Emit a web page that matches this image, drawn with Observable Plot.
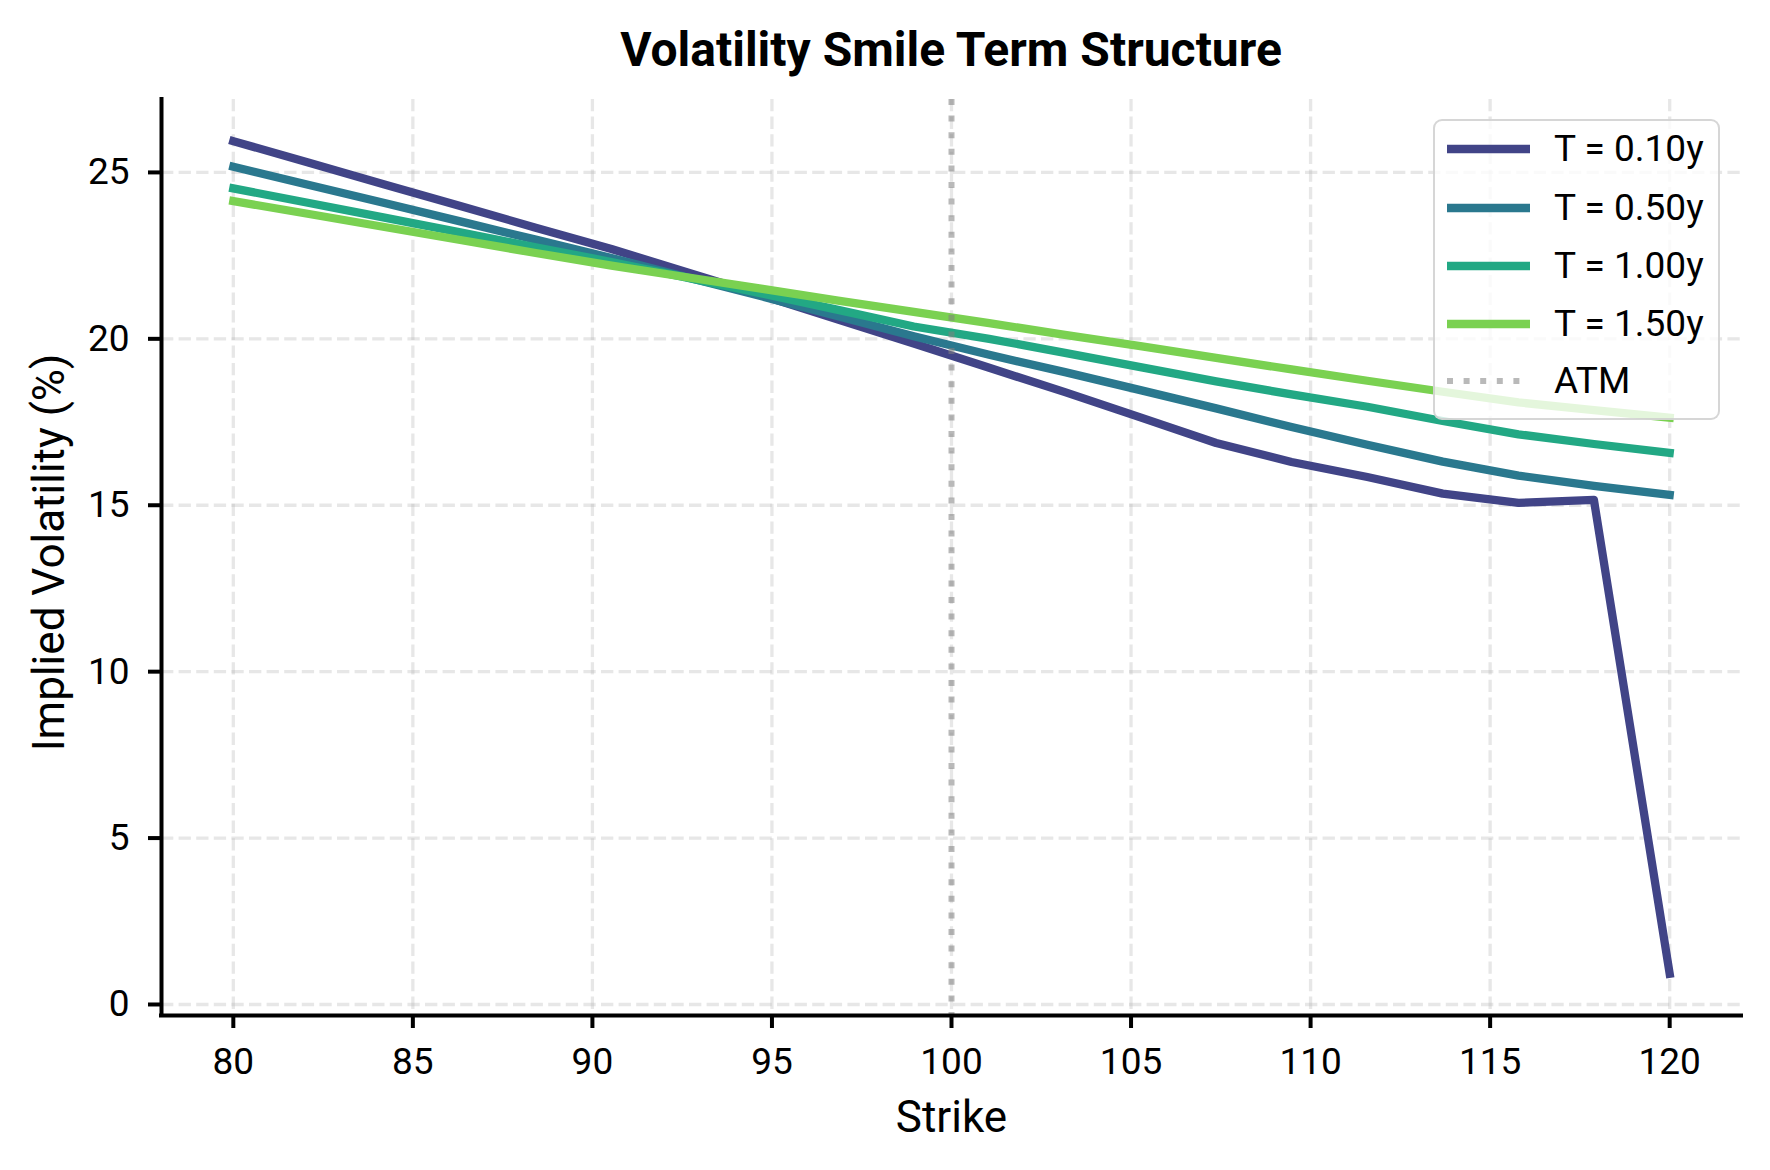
<!DOCTYPE html>
<html>
<head>
<meta charset="utf-8">
<script src="https://cdn.jsdelivr.net/npm/d3@7"></script>
<script src="https://cdn.jsdelivr.net/npm/@observablehq/plot@0.6"></script>
<style>
  html, body { margin: 0; padding: 0; background: #fff; }
  #fig { position: relative; width: 1770px; height: 1170px; font-family: Roboto, sans-serif; color: #000; }
  #title { height: 80px; box-sizing: border-box; padding-top: 26px; margin-left: 161px; width: 1580px;
           text-align: center; font-size: 48px; font-weight: 700; line-height: 1; }
  #legend { position: absolute; left: 1433px; top: 119px; width: 287px; height: 301px; box-sizing: border-box;
            border: 2.5px solid rgba(204,204,204,0.8); border-radius: 9px; background: rgba(255,255,255,0.8); }
  .row { position: absolute; left: 0; height: 50px; display: flex; align-items: center; }
  .row svg { position: absolute; left: 9px; top: 0; }
  .row span { position: absolute; left: 119px; font-size: 37px; line-height: 50px; top: 0; white-space: nowrap; }
</style>
</head>
<body>
<div id="fig">
  <div id="title"></div>
  <div id="chart"></div>
  <div id="legend"></div>
</div>
<script>
// ---- data ----
const strikes = [80, 82.11, 84.21, 86.32, 88.42, 90.53, 92.63, 94.74, 96.84, 98.95,
                 101.05, 103.16, 105.26, 107.37, 109.47, 111.58, 113.68, 115.79, 117.89, 120];
const volT010 = [25.94, 25.29, 24.64, 23.99, 23.34, 22.70, 22.00, 21.30, 20.58, 19.86,
                 19.13, 18.40, 17.64, 16.87, 16.30, 15.85, 15.35, 15.07, 15.16, 0.92];
const volT050 = [25.17, 24.62, 24.08, 23.53, 22.98, 22.43, 21.85, 21.27, 20.68, 20.08,
                 19.52, 19.00, 18.46, 17.91, 17.35, 16.82, 16.31, 15.89, 15.58, 15.31];
const volT100 = [24.52, 24.08, 23.64, 23.20, 22.75, 22.31, 21.84, 21.36, 20.87, 20.37,
                 20.00, 19.58, 19.15, 18.72, 18.33, 17.96, 17.53, 17.13, 16.84, 16.57];
const volT150 = [24.14, 23.75, 23.36, 22.97, 22.58, 22.20, 21.85, 21.50, 21.15, 20.81,
                 20.47, 20.12, 19.78, 19.43, 19.08, 18.74, 18.41, 18.09, 17.86, 17.63];
const seriesLabels = ["T = 0.10y", "T = 0.50y", "T = 1.00y", "T = 1.50y"];
const seriesColors = ["#414487", "#2a788e", "#22a884", "#7ad151"];
const atmStrike = 100;
const atmLabel = "ATM";
const xTicks = [80, 85, 90, 95, 100, 105, 110, 115, 120];
const yTicks = [0, 5, 10, 15, 20, 25];
const titleText = "Volatility Smile Term Structure";
const xLabel = "Strike";
const yLabel = "Implied Volatility (%)";

// ---- build ----
const allVols = [volT010, volT050, volT100, volT150];
const rows = allVols.flatMap((v, k) => strikes.map((s, i) => ({strike: s, vol: v[i], series: seriesLabels[k]})));
const pad = (ext) => { const r = ext[1] - ext[0]; return [ext[0] - 0.05 * r, ext[1] + 0.05 * r]; };
const xDom = pad(d3.extent(strikes));
const yDom = pad(d3.extent(rows, d => d.vol));

document.getElementById("title").textContent = titleText;

const gridStyle = {stroke: "#b0b0b0", strokeOpacity: 0.3, strokeWidth: 3.3, strokeDasharray: "12.3,5.3"};

const chart = Plot.plot({
  width: 1770, height: 1090,
  marginTop: 19, marginBottom: 155, marginLeft: 161, marginRight: 29,
  style: {fontFamily: "Roboto, sans-serif", fontSize: "37px", color: "#000", background: "#fff", overflow: "visible"},
  x: {domain: xDom},
  y: {domain: yDom},
  color: {domain: seriesLabels, range: seriesColors},
  marks: [
    Plot.gridX(xTicks, gridStyle),
    Plot.gridY(yTicks, gridStyle),
    Plot.line(rows, {x: "strike", y: "vol", z: "series", stroke: "series", strokeWidth: 8.3,
                     strokeLinecap: "square", strokeLinejoin: "round"}),
    Plot.ruleX([atmStrike], {stroke: "gray", strokeOpacity: 0.55, strokeWidth: 6, strokeDasharray: "6,10.6"}),
    Plot.ruleY([yDom[0]], {stroke: "#000", strokeWidth: 4, strokeLinecap: "square"}),
    Plot.ruleX([xDom[0]], {stroke: "#000", strokeWidth: 4, strokeLinecap: "square"}),
    Plot.axisX(xTicks, {tickSize: 13, tickPadding: 19, strokeWidth: 4, fontSize: 37, label: null}),
    Plot.axisY(yTicks, {tickSize: 13, tickPadding: 19, strokeWidth: 4, fontSize: 37, label: null}),
    Plot.text([xLabel], {frameAnchor: "bottom", lineAnchor: "middle", textAnchor: "middle", dy: 102,
                         text: d => d, fontSize: 44}),
    Plot.text([yLabel], {frameAnchor: "left", lineAnchor: "middle", textAnchor: "middle", dx: -112, dy: -5,
                         rotate: -90, text: d => d, fontSize: 44})
  ]
});
document.getElementById("chart").appendChild(chart);

// ---- legend ----
const legend = document.getElementById("legend");
const rowCenters = [30, 89, 147, 205, 262];
const entries = seriesLabels.map((l, i) => ({label: l, color: seriesColors[i], dotted: false}))
  .concat([{label: atmLabel, color: "#b9b9b9", dotted: true}]);
entries.forEach((e, i) => {
  const row = document.createElement("div");
  row.className = "row";
  row.style.top = (rowCenters[i] - 2.5 - 25) + "px";
  const dash = e.dotted ? ' stroke-dasharray="6,10.6"' : '';
  const sw = e.dotted ? 6 : 8.3;
  row.innerHTML = `<svg width="90" height="50"><line x1="3" x2="${e.dotted ? 82 : 86}" y1="25" y2="25" stroke="${e.color}" stroke-width="${sw}"${dash}/></svg><span>${e.label}</span>`;
  legend.appendChild(row);
});
</script>
</body>
</html>
